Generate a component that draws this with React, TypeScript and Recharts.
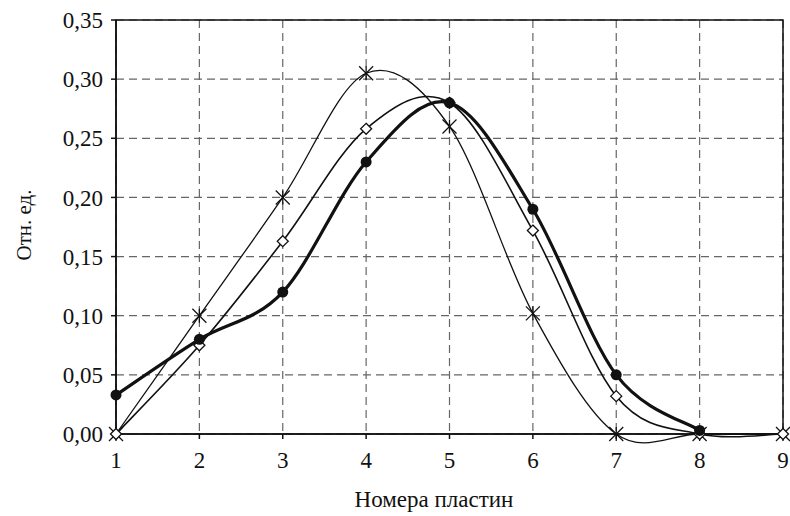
import React from 'react';
import {
  LineChart,
  Line,
  XAxis,
  YAxis,
  CartesianGrid,
  ReferenceArea,
} from 'recharts';

// plate numbers along the x axis
const plates = [1, 2, 3, 4, 5, 6, 7, 8, 9];

// relative units
const starSeries = [0.0, 0.1, 0.2, 0.305, 0.26, 0.102, 0.0, 0.0, 0.0];
const diamondSeries = [0.0, 0.075, 0.163, 0.258, 0.28, 0.172, 0.032, 0.0, 0.0];
const circleSeries = [0.033, 0.08, 0.12, 0.23, 0.28, 0.19, 0.05, 0.003, null];

const yTicks = [0, 0.05, 0.1, 0.15, 0.2, 0.25, 0.3, 0.35];

const data = plates.map((p, i) => ({
  plate: p,
  star: starSeries[i],
  diamond: diamondSeries[i],
  circle: circleSeries[i],
}));

const FONT = '"Liberation Serif", "DejaVu Serif", serif';

// Excel-like smoothed line (Catmull-Rom through the points)
const excelSmooth = (context: any) => {
  let pts: number[][] = [];
  return {
    areaStart() {},
    areaEnd() {},
    lineStart() {
      pts = [];
    },
    lineEnd() {
      const n = pts.length;
      if (!n) return;
      context.moveTo(pts[0][0], pts[0][1]);
      for (let i = 0; i < n - 1; i++) {
        const p0 = pts[Math.max(i - 1, 0)];
        const p1 = pts[i];
        const p2 = pts[i + 1];
        const p3 = pts[Math.min(i + 2, n - 1)];
        context.bezierCurveTo(
          p1[0] + (p2[0] - p0[0]) / 6,
          p1[1] + (p2[1] - p0[1]) / 6,
          p2[0] - (p3[0] - p1[0]) / 6,
          p2[1] - (p3[1] - p1[1]) / 6,
          p2[0],
          p2[1]
        );
      }
    },
    point(x: number, y: number) {
      pts.push([+x, +y]);
    },
  };
};

const StarDot = (props: any) => {
  const { cx, cy, index } = props;
  if (cx == null || cy == null) return <g key={`s-${index}`} />;
  const r = 7;
  return (
    <g key={`s-${index}`} stroke="#111" strokeWidth={1.3}>
      <line x1={cx - r} y1={cy - r} x2={cx + r} y2={cy + r} />
      <line x1={cx - r} y1={cy + r} x2={cx + r} y2={cy - r} />
      <line x1={cx} y1={cy - r} x2={cx} y2={cy + r} />
    </g>
  );
};

const DiamondDot = (props: any) => {
  const { cx, cy, index } = props;
  if (cx == null || cy == null) return <g key={`d-${index}`} />;
  const r = 5.5;
  return (
    <path
      key={`d-${index}`}
      d={`M${cx},${cy - r}L${cx + r},${cy}L${cx},${cy + r}L${cx - r},${cy}Z`}
      fill="#fff"
      stroke="#111"
      strokeWidth={1.3}
    />
  );
};

const CircleDot = (props: any) => {
  const { cx, cy, index } = props;
  if (cx == null || cy == null) return <g key={`c-${index}`} />;
  return <circle key={`c-${index}`} cx={cx} cy={cy} r={5.5} fill="#111" stroke="none" />;
};

const fmt = (v: number) => v.toFixed(2).replace('.', ',');

export default function App() {
  return (
    <div style={{ position: 'absolute', left: 0, top: 0, background: '#fff' }}>
      <LineChart
        width={790}
        height={516}
        data={data}
        margin={{ top: 20, right: 7, bottom: 0, left: 0 }}
        style={{ fontFamily: FONT }}
      >
        <CartesianGrid stroke="#666" strokeDasharray="8 5" strokeWidth={1.2} />
        <XAxis
          dataKey="plate"
          type="number"
          domain={[1, 9]}
          ticks={plates}
          height={82}
          stroke="#111"
          strokeWidth={1.5}
          tickSize={5}
          tickMargin={13}
          tick={{ fill: '#111', fontSize: 23, fontFamily: FONT }}
          label={{
            content: () => (
              <text x={434} y={507} textAnchor="middle" fill="#111" fontSize={23} fontFamily={FONT}>
                Номера пластин
              </text>
            ),
          }}
        />
        <YAxis
          type="number"
          domain={[0, 0.35]}
          ticks={yTicks}
          width={116}
          stroke="#111"
          strokeWidth={1.5}
          tickSize={5}
          tickMargin={8}
          tickFormatter={fmt}
          tick={{ fill: '#111', fontSize: 23, fontFamily: FONT }}
          label={{
            content: () => (
              <text
                x={31}
                y={225}
                transform="rotate(-90 31 225)"
                textAnchor="middle"
                fill="#111"
                fontSize={21}
                fontFamily={FONT}
              >
                Отн. ед.
              </text>
            ),
          }}
        />
        <ReferenceArea x1={1} x2={9} y1={0} y2={0.35} fill="none" stroke="#111" strokeWidth={1.5} ifOverflow="visible" />
        <Line
          dataKey="star"
          type={excelSmooth as any}
          stroke="#111"
          strokeWidth={1.3}
          dot={StarDot}
          activeDot={false}
          isAnimationActive={false}
        />
        <Line
          dataKey="diamond"
          type={excelSmooth as any}
          stroke="#111"
          strokeWidth={1.6}
          dot={DiamondDot}
          activeDot={false}
          isAnimationActive={false}
        />
        <Line
          dataKey="circle"
          type={excelSmooth as any}
          stroke="#111"
          strokeWidth={3.2}
          dot={CircleDot}
          activeDot={false}
          isAnimationActive={false}
        />
      </LineChart>
    </div>
  );
}
